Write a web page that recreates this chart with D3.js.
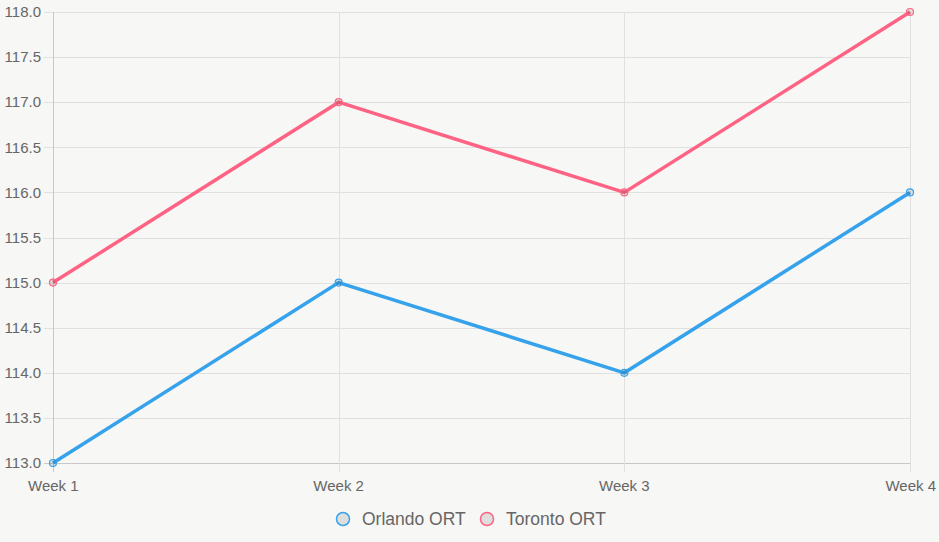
<!DOCTYPE html>
<html>
<head>
<meta charset="utf-8">
<script src="https://cdn.jsdelivr.net/npm/d3@7"></script>
<style>
  body { margin: 0; background: #f7f7f5; }
  svg { display: block; font-family: "Liberation Sans", Arial, sans-serif; }
</style>
</head>
<body>
<svg id="chart" width="939" height="542"></svg>
<script>
// data
var weeks = ["Week 1", "Week 2", "Week 3", "Week 4"];
var orlando = [113, 115, 114, 116];
var toronto = [115, 117, 116, 118];
var yTicks = [113, 113.5, 114, 114.5, 115, 115.5, 116, 116.5, 117, 117.5, 118];
var seriesNames = ["Orlando ORT", "Toronto ORT"];
var seriesColors = ["#36a2eb", "#ff6384"];

var svg = d3.select("#chart");
var plotLeft = 53, plotRight = 910, plotTop = 12, plotBottom = 463;

var x = d3.scalePoint().domain(weeks).range([plotLeft, plotRight]);
var y = d3.scaleLinear().domain([113, 118]).range([plotBottom, plotTop]);

// horizontal grid
svg.append("g")
  .selectAll("line")
  .data(yTicks)
  .enter()
  .append("line")
  .attr("x1", plotLeft - 9)
  .attr("x2", plotRight)
  .attr("y1", function (d) { return Math.round(y(d)) + 0.5; })
  .attr("y2", function (d) { return Math.round(y(d)) + 0.5; })
  .attr("stroke", function (d, i) { return i == 0 ? "#c8c8c8" : "#e0e0e0"; })
  .attr("stroke-width", 1);

// vertical grid
svg.append("g")
  .selectAll("line")
  .data(weeks)
  .enter()
  .append("line")
  .attr("x1", function (d) { return Math.round(x(d)) + 0.5; })
  .attr("x2", function (d) { return Math.round(x(d)) + 0.5; })
  .attr("y1", plotTop)
  .attr("y2", plotBottom + 9)
  .attr("stroke", function (d, i) { return i == 0 ? "#c8c8c8" : "#e0e0e0"; })
  .attr("stroke-width", 1);

// y labels
svg.append("g")
  .selectAll("text")
  .data(yTicks)
  .enter()
  .append("text")
  .attr("x", plotLeft - 12)
  .attr("y", function (d) { return y(d); })
  .attr("dy", "0.35em")
  .attr("text-anchor", "end")
  .style("font-size", "15px")
  .style("fill", "#666")
  .text(function (d) { return d.toFixed(1); });

// x labels
svg.append("g")
  .selectAll("text")
  .data(weeks)
  .enter()
  .append("text")
  .attr("x", function (d) { return x(d); })
  .attr("y", plotBottom + 28)
  .attr("text-anchor", function (d, i) { return i == weeks.length - 1 ? "end" : (i == 0 ? "start" : "middle"); })
  .attr("dx", function (d, i) { return i == 0 ? -25 : (i == weeks.length - 1 ? 26 : 0); })
  .style("font-size", "15px")
  .style("fill", "#666")
  .text(function (d) { return d; });

// lines + points
var line = d3.line()
  .x(function (d, i) { return x(weeks[i]); })
  .y(function (d) { return y(d); });

[orlando, toronto].forEach(function (vals, k) {
  svg.append("path")
    .datum(vals)
    .attr("d", line)
    .attr("fill", "none")
    .attr("stroke", seriesColors[k])
    .attr("stroke-width", 3.5);
  svg.append("g")
    .selectAll("circle")
    .data(vals)
    .enter()
    .append("circle")
    .attr("cx", function (d, i) { return x(weeks[i]); })
    .attr("cy", function (d) { return y(d); })
    .attr("r", 3.5)
    .attr("fill", "rgba(0,0,0,0.1)")
    .attr("stroke", seriesColors[k])
    .attr("stroke-width", 1.2);
});

// legend
var legX = [343, 487];
var leg = svg.append("g");
leg.selectAll("circle")
  .data(seriesNames)
  .enter()
  .append("circle")
  .attr("cx", function (d, i) { return legX[i]; })
  .attr("cy", 519)
  .attr("r", 6.5)
  .attr("fill", "#dedede")
  .attr("stroke", function (d, i) { return seriesColors[i]; })
  .attr("stroke-width", 1.5);
leg.selectAll("text")
  .data(seriesNames)
  .enter()
  .append("text")
  .attr("x", function (d, i) { return legX[i] + 19; })
  .attr("y", 519)
  .attr("dy", "0.35em")
  .style("font-size", "17.5px")
  .style("fill", "#666")
  .text(function (d) { return d; });
</script>
</body>
</html>
